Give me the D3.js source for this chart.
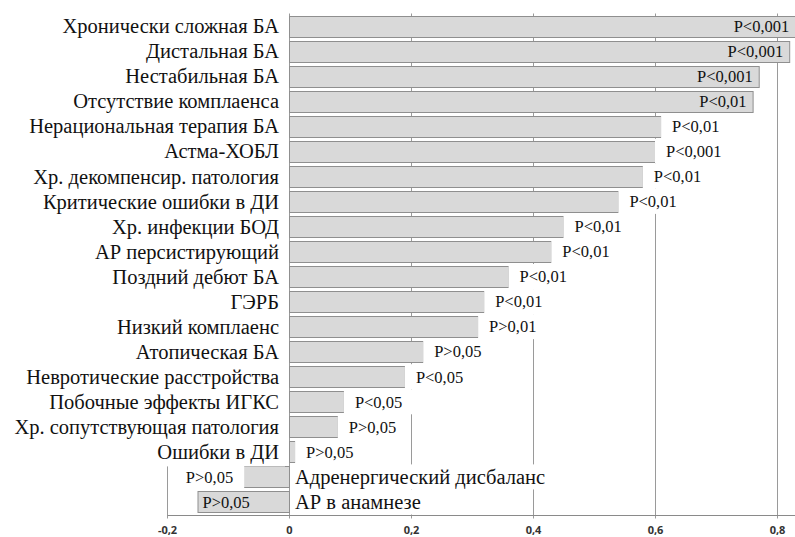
<!DOCTYPE html>
<html>
<head>
<meta charset="utf-8">
<script src="https://cdn.jsdelivr.net/npm/d3@7"></script>
<style>
  body { margin: 0; background: #fff; overflow: hidden; }
  svg { display: block; }
</style>
</head>
<body>
<div id="chart"></div>
<script>
var categories = [
    "Хронически сложная БА", "Дистальная БА", "Нестабильная БА", "Отсутствие комплаенса",
    "Нерациональная терапия БА", "Астма-ХОБЛ", "Хр. декомпенсир. патология",
    "Критические ошибки в ДИ", "Хр. инфекции БОД", "АР персистирующий", "Поздний дебют БА",
    "ГЭРБ", "Низкий комплаенс", "Атопическая БА", "Невротические расстройства",
    "Побочные эффекты ИГКС", "Хр. сопутствующая патология", "Ошибки в ДИ",
    "Адренергический дисбаланс", "АР в анамнезе"
];
var values = [0.83, 0.82, 0.77, 0.76, 0.61, 0.60, 0.58, 0.54, 0.45, 0.43, 0.36,
    0.32, 0.31, 0.22, 0.19, 0.09, 0.08, 0.01, -0.08, -0.15];
var pLabels = ["P<0,001", "P<0,001", "P<0,001", "P<0,01", "P<0,01", "P<0,001", "P<0,01",
    "P<0,01", "P<0,01", "P<0,01", "P<0,01", "P<0,01", "P>0,01", "P>0,05", "P<0,05",
    "P<0,05", "P>0,05", "P>0,05", "P>0,05", "P>0,05"];
// where the p-label sits: inside the bar or past its end
var labelPos = ["in", "in", "in", "in", "out", "out", "out", "out", "out", "out", "out",
    "out", "out", "out", "out", "out", "out", "out", "out", "in"];
var tickValues = [-0.2, 0, 0.2, 0.4, 0.6, 0.8];

var data = categories.map((c, i) => ({ cat: c, value: values[i], p: pLabels[i], pos: labelPos[i] }));

var serif = "'Liberation Serif', 'Times New Roman', Times, Tinos, 'Noto Serif', FreeSerif, 'DejaVu Serif', serif";
var W = 795, H = 537;
var top0 = 13.5, bottom0 = 514.5;

var svg = d3.select("#chart").append("svg")
    .attr("width", W)
    .attr("height", H);

var x = d3.scaleLinear()
    .domain([-0.2, 0.85])
    .range([289 - 0.2 * 610, 289 + 0.85 * 610]);
var y = d3.scaleBand()
    .domain(categories)
    .range([top0, bottom0])
    .paddingInner(0.16)
    .paddingOuter(0.08);

// gridlines (they run a little past the axis as ticks)
svg.append("g").selectAll("line")
    .data(tickValues)
    .enter().append("line")
    .attr("x1", d => x(d) + 0.5).attr("x2", d => x(d) + 0.5)
    .attr("y1", top0).attr("y2", bottom0 + 4)
    .attr("stroke", "#9a9a9a")
    .attr("stroke-width", 1);

// bars
svg.append("g").selectAll(".bar")
    .data(data)
    .enter().append("rect")
    .attr("class", "bar")
    .attr("x", d => x(Math.min(0, d.value)) + 0.5)
    .attr("y", d => Math.round(y(d.cat)) + 0.5)
    .attr("width", d => Math.abs(x(d.value) - x(0)))
    .attr("height", Math.round(y.bandwidth()))
    .attr("fill", "#d9d9d9")
    .attr("stroke", "#8f8f8f")
    .attr("stroke-width", 1);

var step = y.step();
var labels = svg.append("g");

// the left label area is one white text box in the original
var lastLeft = data.filter(d => d.value >= 0).pop().cat;
labels.append("rect")
    .attr("x", 0)
    .attr("y", 0)
    .attr("width", x(0) - 4)
    .attr("height", y(lastLeft) + y.bandwidth() + 4)
    .attr("fill", "#fff");

function whiteBox(sel, padX) {
    sel.each(function (d) {
        var b = this.getBBox();
        d3.select(this.parentNode).insert("rect", function () { return this.firstChild; })
            .attr("x", b.x - padX)
            .attr("y", y(d.cat) + y.bandwidth() / 2 - step / 2)
            .attr("width", b.width + 2 * padX)
            .attr("height", step)
            .attr("fill", "#fff");
    });
}

// category labels
var catG = labels.selectAll(".catg")
    .data(data)
    .enter().append("g");
catG.append("text")
    .attr("class", "cat")
    .attr("x", d => d.value >= 0 ? x(0) - 10 : x(0) + 6)
    .attr("y", d => y(d.cat) + y.bandwidth() / 2)
    .attr("dy", "0.35em")
    .attr("text-anchor", d => d.value >= 0 ? "end" : "start")
    .style("font-family", serif)
    .style("font-size", "20.5px")
    .style("fill", "#111")
    .text(d => d.cat);
whiteBox(catG.filter(d => d.value < 0).select("text"), 4);

// p-value labels
var pG = labels.selectAll(".pg")
    .data(data)
    .enter().append("g");
pG.append("text")
    .attr("class", "plab")
    .attr("x", d => {
        if (d.pos === "in") return d.value >= 0 ? x(d.value) - 6 : x(d.value) + 5;
        return d.value >= 0 ? x(d.value) + 11 : x(d.value) - 7;
    })
    .attr("y", d => y(d.cat) + y.bandwidth() / 2)
    .attr("dy", "0.35em")
    .attr("text-anchor", d => {
        if (d.pos === "in") return d.value >= 0 ? "end" : "start";
        return d.value >= 0 ? "start" : "end";
    })
    .style("font-family", serif)
    .style("font-size", "16.5px")
    .style("fill", "#111")
    .text(d => d.p);
whiteBox(pG.filter(d => d.pos === "out").select("text"), 11);

// axis
var fmt = d => d === 0 ? "0" : d3.format(".1f")(d).replace(".", ",").replace("−", "-");
var xAxis = d3.axisBottom(x).tickValues(tickValues).tickFormat(fmt).tickSize(0).tickPadding(11);
var ax = svg.append("g")
    .attr("class", "x axis")
    .attr("transform", "translate(0," + (bottom0 + 0.5) + ")")
    .call(xAxis);
ax.select(".domain").attr("stroke", "#8a8a8a");
ax.selectAll("text")
    .style("font-family", "'Open Sans', sans-serif")
    .style("font-weight", "bold")
    .style("font-size", "11px")
    .style("fill", "#333");
</script>
</body>
</html>
